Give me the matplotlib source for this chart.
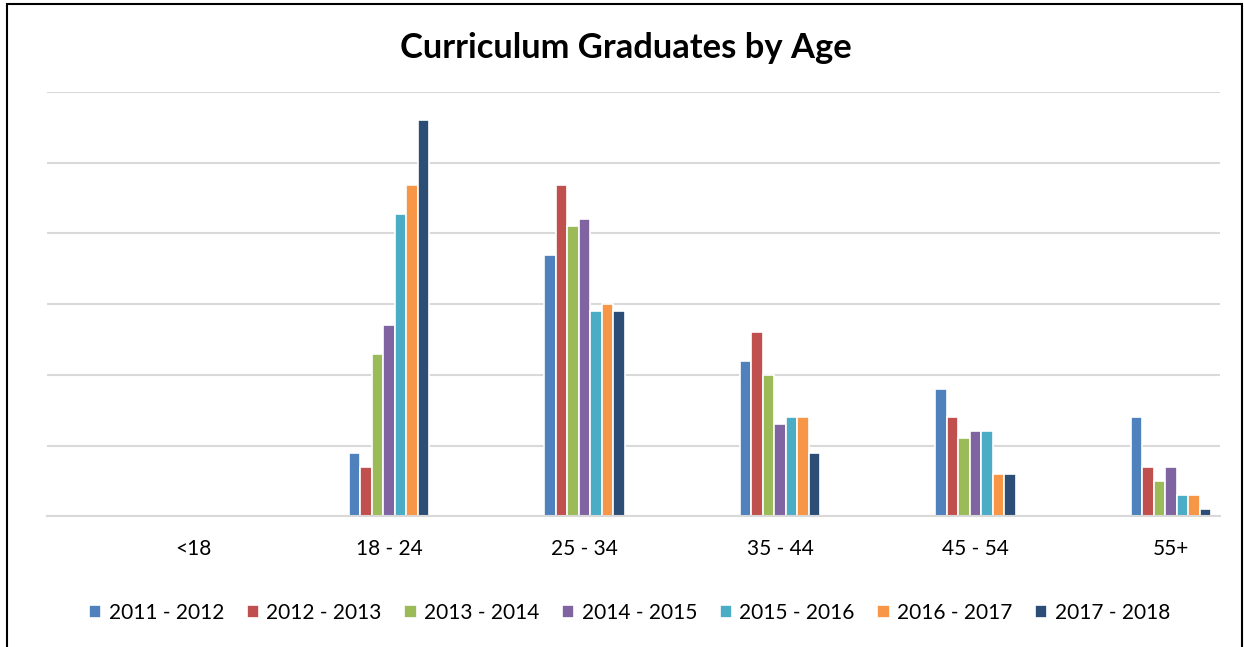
import matplotlib.pyplot as plt
import numpy as np
from matplotlib.patches import Rectangle

plt.rcParams['font.family'] = ['Lato', 'DejaVu Sans']

# Values (one gridline = 50)
age_groups = ['<18', '18 - 24', '25 - 34', '35 - 44', '45 - 54', '55+']
years = ['2011 - 2012', '2012 - 2013', '2013 - 2014', '2014 - 2015',
         '2015 - 2016', '2016 - 2017', '2017 - 2018']
y2011 = [0, 45, 185, 110, 90, 70]
y2012 = [0, 35, 234, 130, 70, 35]
y2013 = [0, 115, 205, 100, 55, 25]
y2014 = [0, 135, 210, 65, 60, 35]
y2015 = [0, 214, 145, 70, 60, 15]
y2016 = [0, 234, 150, 70, 30, 15]
y2017 = [0, 280, 145, 45, 30, 5]
series = [y2011, y2012, y2013, y2014, y2015, y2016, y2017]

colors = ['#4F81BD', '#C0504D', '#9BBB59', '#8064A2',
          '#4BACC6', '#F79646', '#2C4D75']

fig = plt.figure(figsize=(12.44, 6.47), dpi=100)
ax = fig.add_axes([0.0378, 0.202, 0.943, 0.656])

x = np.arange(len(age_groups))
pitch = 0.0588
for i, (vals, c, lab) in enumerate(zip(series, colors, years)):
    offs = (i - 3) * pitch
    ax.bar(x + offs, vals, width=pitch, color=c, edgecolor='white',
           linewidth=1.2, label=lab, zorder=2)

ax.set_xlim(-0.75, len(age_groups) - 0.75)
ax.set_ylim(0, 300)
ax.set_yticks(np.arange(0, 301, 50))
ax.yaxis.grid(True, color='#D9D9D9', linewidth=1.5, zorder=0)
ax.set_axisbelow(True)
ax.set_yticklabels([])
ax.tick_params(axis='y', length=0)
ax.set_xticks(x)
ax.set_xticklabels(age_groups, fontsize=15)
ax.tick_params(axis='x', length=0, pad=16)
for s in ['top', 'right', 'left']:
    ax.spines[s].set_visible(False)
ax.spines['bottom'].set_color('#D9D9D9')
ax.spines['bottom'].set_linewidth(1.5)
ax.spines['bottom'].set_zorder(3)

fig.text(0.503, 1 - 48 / 647, 'Curriculum Graduates by Age', fontsize=24.8,
         fontweight='bold', ha='center', va='center')

fig.legend(loc='center', bbox_to_anchor=(0.506, 0.053), ncol=7,
           frameon=False, fontsize=15, handlelength=0.6, handleheight=0.6,
           handletextpad=0.35, columnspacing=1.08)

# chart frame
fig.patches.append(Rectangle((0.0058, -0.01), 0.9922, 1.0036, transform=fig.transFigure,
                             fill=False, edgecolor='black', linewidth=1.5))

plt.savefig('out.png', dpi=100)
